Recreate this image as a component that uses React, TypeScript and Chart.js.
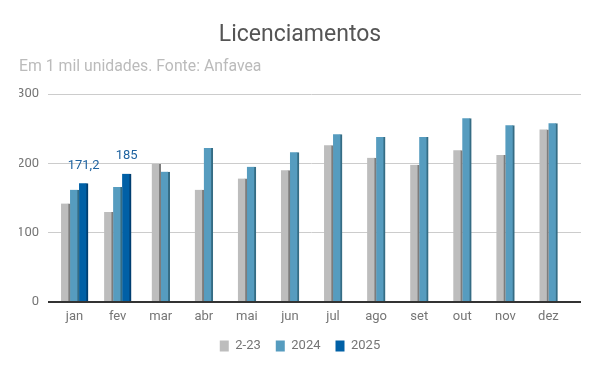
import React, { useEffect, useRef } from 'react';
import { Chart, registerables } from 'chart.js';

Chart.register(...registerables);

const months = ['jan', 'fev', 'mar', 'abr', 'mai', 'jun', 'jul', 'ago', 'set', 'out', 'nov', 'dez'];
const seriesLabels = ['2-23', '2024', '2025'];
const serie2023 = [142, 130, 199, 162, 178, 190, 226, 208, 198, 219, 212, 249];
const serie2024 = [162, 166, 188, 222, 195, 216, 242, 238, 238, 265, 255, 258];
const serie2025: (number | null)[] = [171.2, 185, null, null, null, null, null, null, null, null, null, null];
const yMin = 0;
const yMax = 300;
const yStep = 100;

const frontColors = ['#bdbdbd', '#569cbf', '#0060a6'];
const sideColors = ['#7c7c7c', '#356c84', '#003e70'];

const FONT = 'Roboto, "Liberation Sans", Arial, sans-serif';

const fmt = (v: number) => String(v).replace('.', ',');

const valueLabels = {
  id: 'valueLabels',
  afterDatasetsDraw(chart: any) {
    const meta = chart.getDatasetMeta(2);
    const ctx = chart.ctx;
    ctx.save();
    ctx.font = `13px ${FONT}`;
    ctx.fillStyle = '#1f63a0';
    ctx.textAlign = 'center';
    ctx.textBaseline = 'middle';
    meta.data.forEach((el: any, i: number) => {
      const v = serie2025[i];
      if (v == null) return;
      ctx.fillText(fmt(v), el.x, el.y - 18);
    });
    ctx.restore();
  },
};

export default function App() {
  const ref = useRef<HTMLCanvasElement | null>(null);

  useEffect(() => {
    if (!ref.current) return;
    const gridColor = (c: any) => (c.tick && c.tick.value === 0 ? '#333333' : '#cccccc');
    const gridWidth = (c: any) => (c.tick && c.tick.value === 0 ? 2 : 1);
    const series = [serie2023, serie2024, serie2025];
    const chart = new Chart(ref.current, {
      type: 'bar',
      data: {
        labels: months,
        datasets: series.map((d, i) => ({
          label: seriesLabels[i],
          data: d,
          backgroundColor: frontColors[i],
          borderColor: sideColors[i],
          borderWidth: { top: 0, right: 2, bottom: 0, left: 0 },
          borderSkipped: false,
          barThickness: 9,
          skipNull: true,
        })),
      },
      options: {
        responsive: false,
        animation: false,
        layout: { padding: { left: 19, right: 19, top: 0, bottom: 8.4 } },
        plugins: {
          tooltip: { enabled: false },
          title: {
            display: true,
            text: 'Licenciamentos',
            align: 'center',
            color: '#555555',
            font: { family: FONT, size: 23, weight: 'normal', lineHeight: 1.2 },
            padding: { top: 21, bottom: 0 },
          },
          subtitle: {
            display: true,
            text: 'Em 1 mil unidades. Fonte: Anfavea',
            align: 'start',
            color: '#bbbbbb',
            font: { family: FONT, size: 15.8, weight: 'normal', lineHeight: 1.2 },
            padding: { top: 8.6, bottom: 17.9 },
          },
          legend: {
            position: 'bottom',
            labels: {
              color: '#757575',
              font: { family: FONT, size: 13 },
              boxWidth: 9,
              boxHeight: 11,
              padding: 15,
              generateLabels: (ch: any) =>
                ch.data.datasets.map((ds: any, i: number) => ({
                  text: ds.label,
                  fillStyle: frontColors[i],
                  strokeStyle: frontColors[i],
                  lineWidth: 0,
                  hidden: false,
                  datasetIndex: i,
                  fontColor: '#757575',
                })),
            },
          },
        },
        scales: {
          x: {
            grid: { display: false, drawTicks: false },
            border: { display: false },
            ticks: {
              color: '#757575',
              font: { family: FONT, size: 13 },
              padding: 7,
              maxRotation: 0,
              autoSkip: false,
            },
            afterFit: (s: any) => {
              s.height = 22.6;
            },
          },
          y: {
            min: yMin,
            max: yMax,
            border: { display: false },
            grid: { color: gridColor, lineWidth: gridWidth, drawTicks: true, tickLength: 5 },
            ticks: { stepSize: yStep, color: '#757575', font: { family: FONT, size: 13 }, padding: 9 },
            afterFit: (s: any) => {
              s.width = 34;
            },
          },
          y2: {
            position: 'right',
            min: yMin,
            max: yMax,
            border: { display: false },
            grid: { color: gridColor, lineWidth: gridWidth, drawOnChartArea: false, drawTicks: true, tickLength: 11 },
            ticks: { stepSize: yStep, display: false },
            afterFit: (s: any) => {
              s.width = 11;
            },
          },
        },
      },
      plugins: [valueLabels],
    });
    return () => chart.destroy();
  }, []);

  return (
    <div style={{ position: 'absolute', left: 0, top: 0, width: 600, height: 371 }}>
      <canvas ref={ref} width={600} height={371} style={{ display: 'block' }} />
    </div>
  );
}
